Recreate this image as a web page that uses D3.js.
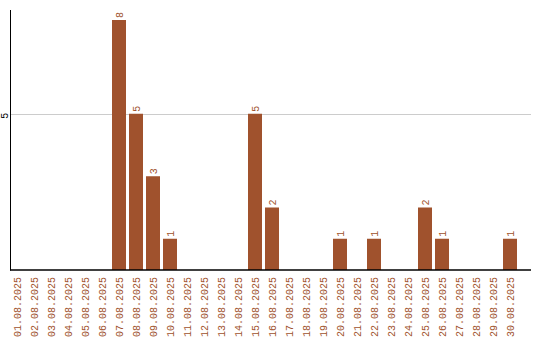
<!DOCTYPE html>
<html><head><meta charset="utf-8">
<script src="https://cdn.jsdelivr.net/npm/d3@7"></script>
<style>body{margin:0;background:#fff}svg{display:block}</style>
</head><body>
<svg id="c" width="540" height="340"></svg>
<script>
const categories = ["01.08.2025","02.08.2025","03.08.2025","04.08.2025","05.08.2025","06.08.2025","07.08.2025","08.08.2025","09.08.2025","10.08.2025","11.08.2025","12.08.2025","13.08.2025","14.08.2025","15.08.2025","16.08.2025","17.08.2025","18.08.2025","19.08.2025","20.08.2025","21.08.2025","22.08.2025","23.08.2025","24.08.2025","25.08.2025","26.08.2025","27.08.2025","28.08.2025","29.08.2025","30.08.2025"];
const values = [0,0,0,0,0,0,8,5,3,1,0,0,0,0,5,2,0,0,0,1,0,1,0,0,2,1,0,0,0,1];
const yTicks = [5];

const svg = d3.select("#c");
const color = "#a0522d";
const font = "'Liberation Mono', monospace";
const x = d3.scaleBand().domain(categories).range([10, 517]).paddingInner(3/17).paddingOuter(0);
const y = d3.scaleLinear().domain([0, 8.32]).range([270, 10]);

// grid
svg.append("g").selectAll("line").data(yTicks).join("line")
  .attr("x1", 10).attr("x2", 531)
  .attr("y1", d => Math.round(y(d)) + 0.5).attr("y2", d => Math.round(y(d)) + 0.5)
  .attr("stroke", "#cccccc").attr("stroke-width", 1);

// y tick labels
svg.append("g").selectAll("text").data(yTicks).join("text")
  .attr("transform", d => `translate(8,${y(d) + 2}) rotate(-90)`)
  .attr("text-anchor", "middle")
  .attr("font-family", font).attr("font-size", 10).attr("fill", "#000")
  .text(d => d);

// bars
const nz = categories.map((c, i) => ({c, v: values[i]})).filter(d => d.v > 0);
svg.append("g").selectAll("rect").data(nz).join("rect")
  .attr("x", d => x(d.c)).attr("width", x.bandwidth())
  .attr("y", d => y(d.v)).attr("height", d => y(0) - y(d.v))
  .attr("fill", color);

// value labels
svg.append("g").selectAll("text").data(nz).join("text")
  .attr("transform", d => `translate(${x(d.c) + x.bandwidth()/2},${y(d.v) - 2}) rotate(-90)`)
  .attr("text-anchor", "start").attr("dy", "0.35em")
  .attr("font-family", font).attr("font-size", 10).attr("fill", color)
  .text(d => d.v);

// x labels
svg.append("g").selectAll("text").data(categories).join("text")
  .attr("transform", d => `translate(${x(d) + x.bandwidth()/2},277) rotate(-90)`)
  .attr("text-anchor", "end").attr("dy", "0.35em")
  .attr("font-family", font).attr("font-size", 10).attr("fill", color)
  .text(d => d);

// axes lines
svg.append("line").attr("x1", 10.5).attr("x2", 10.5).attr("y1", 10).attr("y2", 270.5)
  .attr("stroke", "#000").attr("stroke-width", 1);
svg.append("line").attr("x1", 10).attr("x2", 531).attr("y1", 270).attr("y2", 270)
  .attr("stroke", "#000").attr("stroke-width", 1.5);
</script>
</body></html>
